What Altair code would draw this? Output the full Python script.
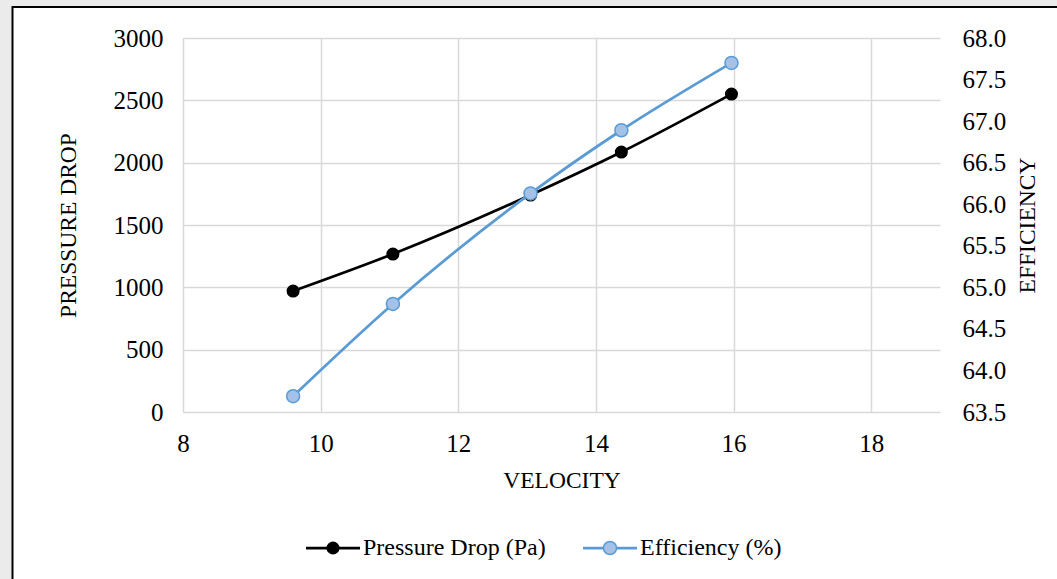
import altair as alt
import pandas as pd

velocity = [9.6, 11.05, 13.05, 14.37, 15.97]
pressure_drop = [970, 1267, 1740, 2085, 2550]
efficiency = [63.69, 64.80, 66.13, 66.89, 67.70]

x_ticks = [8, 10, 12, 14, 16, 18]
left_ticks = [0, 500, 1000, 1500, 2000, 2500, 3000]
right_ticks = [63.5, 64.0, 64.5, 65.0, 65.5, 66.0, 66.5, 67.0, 67.5, 68.0]

legend_labels = ["Pressure Drop (Pa)", "Efficiency (%)"]

FONT = "Liberation Serif"
BLUE = "#5b9bd5"
BLUE_FILL = "#a4c2e8"
GRID = "#d9d9d9"
TICK_FS = 25
TITLE_FS = 23.5
LEG_FS = 24

df = pd.DataFrame({"v": velocity, "p": pressure_drop, "e": efficiency})
one = pd.DataFrame({"a": [0]})

W, H = 757, 374
PL, PT, PR, PB = 183, 38, 117, 167

xenc = alt.X("v:Q", scale=alt.Scale(domain=[8, 19], nice=False, zero=False),
             axis=alt.Axis(values=x_ticks, format="d", title="VELOCITY", grid=True, gridColor=GRID,
                           gridWidth=1.5, domain=False, ticks=False, labelPadding=19,
                           labelFlush=False, titlePadding=12, labelFontSize=TICK_FS,
                           titleFontSize=TITLE_FS, titleFontWeight="normal", labelFont=FONT,
                           titleFont=FONT, labelColor="black", titleColor="black"))

# decorations: gray margin strips and border
left_strip = alt.Chart(one).mark_rect(color="#ebebeb").encode(
    x=alt.value(-PL), x2=alt.value(-PL + 12), y=alt.value(-PT), y2=alt.value(H + PB))
top_strip = alt.Chart(one).mark_rect(color="#ebebeb").encode(
    x=alt.value(-PL), x2=alt.value(W + PR), y=alt.value(-PT), y2=alt.value(-PT + 6))
border_v = alt.Chart(one).mark_rule(color="black", strokeWidth=2).encode(
    x=alt.value(-PL + 12.5), y=alt.value(-PT + 6), y2=alt.value(H + PB))
border_h = alt.Chart(one).mark_rule(color="black", strokeWidth=2).encode(
    x=alt.value(-PL + 12), x2=alt.value(W + PR), y=alt.value(-PT + 7))

p_line = alt.Chart(df).mark_line(color="black", strokeWidth=2.75, interpolate="monotone").encode(
    x=xenc,
    y=alt.Y("p:Q", scale=alt.Scale(domain=[0, 3000], nice=False),
            axis=alt.Axis(values=left_ticks, format="d", title="PRESSURE DROP", grid=True,
                          gridColor=GRID, gridWidth=1.5, domain=False, ticks=False,
                          labelFlush=False, labelPadding=20, titlePadding=33,
                          labelFontSize=TICK_FS, titleFontSize=TITLE_FS,
                          titleFontWeight="normal", labelFont=FONT, titleFont=FONT,
                          labelColor="black", titleColor="black")))
p_pts = alt.Chart(df).mark_circle(color="black", size=170, opacity=1).encode(
    x="v:Q", y="p:Q")

e_line = alt.Chart(df).mark_line(color=BLUE, strokeWidth=2.75, interpolate="monotone").encode(
    x="v:Q",
    y=alt.Y("e:Q", scale=alt.Scale(domain=[63.5, 68.0], nice=False, zero=False),
            axis=alt.Axis(values=right_ticks, format=".1f", orient="right", title="EFFICIENCY",
                          titleAngle=270, grid=False, domain=False, ticks=False, labelPadding=22,
                          labelFlush=False, titlePadding=34, labelFontSize=TICK_FS,
                          titleFontSize=TITLE_FS, titleFontWeight="normal", labelFont=FONT,
                          titleFont=FONT, labelColor="black", titleColor="black")))
e_pts = alt.Chart(df).mark_point(filled=True, fill=BLUE_FILL, stroke=BLUE, strokeWidth=1.5,
                                 size=170, opacity=1, shape="circle").encode(
    x="v:Q", y="e:Q")

left_layer = alt.layer(p_line, p_pts)
right_layer = alt.layer(e_line, e_pts)

# legend
LY = 510
leg = [
    alt.Chart(one).mark_rule(color="black", strokeWidth=2.75).encode(
        x=alt.value(123), x2=alt.value(177), y=alt.value(LY)),
    alt.Chart(one).mark_point(filled=True, color="black", size=170, opacity=1, shape="circle").encode(
        x=alt.value(150), y=alt.value(LY)),
    alt.Chart(one).mark_text(text=legend_labels[0], align="left", baseline="middle", font=FONT,
                             fontSize=LEG_FS, color="black").encode(x=alt.value(180), y=alt.value(LY)),
    alt.Chart(one).mark_rule(color=BLUE, strokeWidth=2.75).encode(
        x=alt.value(400), x2=alt.value(454), y=alt.value(LY)),
    alt.Chart(one).mark_point(filled=True, fill=BLUE_FILL, stroke=BLUE, strokeWidth=1.5, size=170,
                              opacity=1, shape="circle").encode(x=alt.value(427), y=alt.value(LY)),
    alt.Chart(one).mark_text(text=legend_labels[1], align="left", baseline="middle", font=FONT,
                             fontSize=LEG_FS, color="black").encode(x=alt.value(457), y=alt.value(LY)),
]

chart = alt.layer(left_strip, top_strip, border_v, border_h, left_layer, right_layer, *leg).resolve_scale(
    y="independent"
).properties(
    width=W, height=H,
    padding={"left": PL, "top": PT, "right": PR, "bottom": PB},
    autosize=alt.AutoSizeParams(type="none"),
    background="white",
).configure_view(stroke=None)

chart.save("out.html", embed_options={"renderer": "svg", "actions": False})
